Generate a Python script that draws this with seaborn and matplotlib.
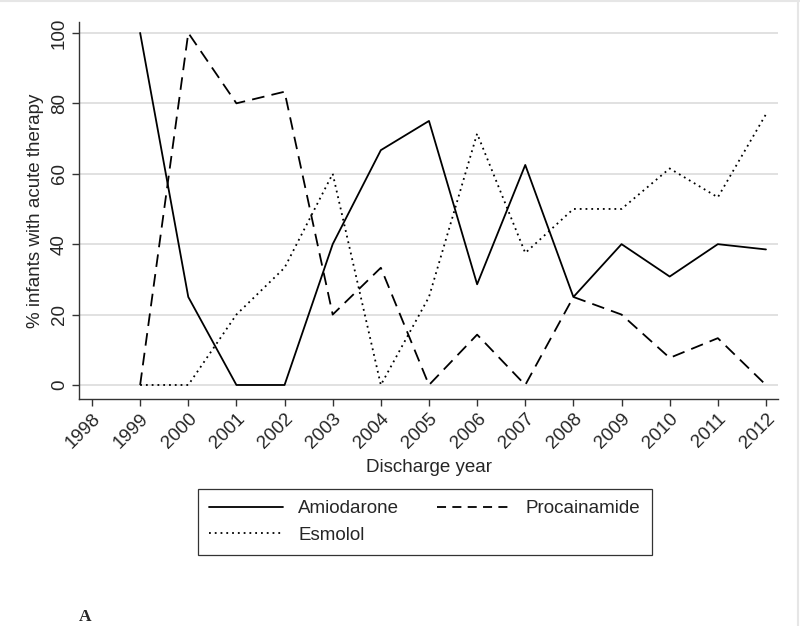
import matplotlib
matplotlib.use("Agg")
import matplotlib.pyplot as plt
from matplotlib.lines import Line2D
import seaborn as sns
import pandas as pd

years = [1999, 2000, 2001, 2002, 2003, 2004, 2005, 2006, 2007, 2008, 2009, 2010, 2011, 2012]
amiodarone = [100, 25, 0, 0, 40, 66.7, 75, 28.6, 62.5, 25, 40, 30.8, 40, 38.5]
procainamide = [0, 100, 80, 83.3, 20, 33.3, 0, 14.3, 0, 25, 20, 7.7, 13.3, 0]
esmolol = [0, 0, 20, 33.3, 60, 0, 25, 71.4, 37.5, 50, 50, 61.5, 53.3, 76.9]
xticks = list(range(1998, 2013))
yticks = [0, 20, 40, 60, 80, 100]

sns.set_theme(style="white")
plt.rcParams['font.family'] = ['Liberation Sans', 'DejaVu Sans']
FS = 13.5

fig = plt.figure(figsize=(8.0, 6.26), dpi=100)
ax = fig.add_axes([79/800, 1-399/626, (778-79)/800, (399-22)/626])

styles = {
    "Amiodarone": (amiodarone, "-"),
    "Procainamide": (procainamide, (0, (7, 4))),
    "Esmolol": (esmolol, (0, (1, 2.2))),
}
for name, (vals, ls) in styles.items():
    df = pd.DataFrame({"year": years, "pct": vals})
    sns.lineplot(data=df, x="year", y="pct", ax=ax, color="black",
                 linestyle=ls, linewidth=1.3, label=name, legend=False)

ax.set_xlim(1997.73, 2012.25)
ax.set_ylim(-3.98, 103.1)
ax.set_yticks(yticks)
ax.set_xticks(xticks)
ax.set_xticklabels([str(y) for y in xticks], rotation=45, ha="right",
                   rotation_mode="anchor", fontsize=FS)
ax.set_yticklabels([str(y) for y in yticks], rotation=90, va="center", fontsize=FS)
ax.grid(axis="y", color="#dcdcdc", linewidth=1.2)
ax.grid(axis="x", visible=False)
for s in ["top", "right"]:
    ax.spines[s].set_visible(False)
for s in ["left", "bottom"]:
    ax.spines[s].set_color("#333333")
    ax.spines[s].set_linewidth(1.0)
ax.tick_params(axis="both", direction="out", length=5, width=1.0, color="#333333",
               bottom=True, left=True, pad=3)
ax.set_xlabel("Discharge year", fontsize=FS, labelpad=5)
ax.set_ylabel("% infants with acute therapy", fontsize=FS, labelpad=5)

handles = [
    Line2D([0], [0], color="black", lw=1.3, linestyle="-"),
    Line2D([0], [0], color="black", lw=1.3, linestyle=(0, (1, 2.2))),
    Line2D([0], [0], color="black", lw=1.3, linestyle=(0, (5, 3.5))),
]
labels = ["Amiodarone", "Esmolol", "Procainamide"]
leg = fig.legend(handles, labels, ncol=2, loc="upper left",
                 bbox_to_anchor=(198/800, 1-489/626),
                 frameon=True, fancybox=False, fontsize=FS,
                 handlelength=3.95, handletextpad=0.8, borderpad=0.6,
                 labelspacing=0.5, columnspacing=2.0, borderaxespad=0)
leg.get_frame().set_edgecolor("black")
leg.get_frame().set_linewidth(0.9)

fig.text(85/800, 1-621/626, "A", fontsize=12.5, fontweight="bold",
         family=["Liberation Serif", "DejaVu Serif"], ha="center", va="baseline")

fig.add_artist(Line2D([0, 1], [0.999, 0.999], transform=fig.transFigure, color="#e6e6e6", lw=1.5))
fig.add_artist(Line2D([797.5/800, 797.5/800], [0, 1], transform=fig.transFigure, color="#e6e6e6", lw=1.5))

fig.savefig("out.png", dpi=100)
